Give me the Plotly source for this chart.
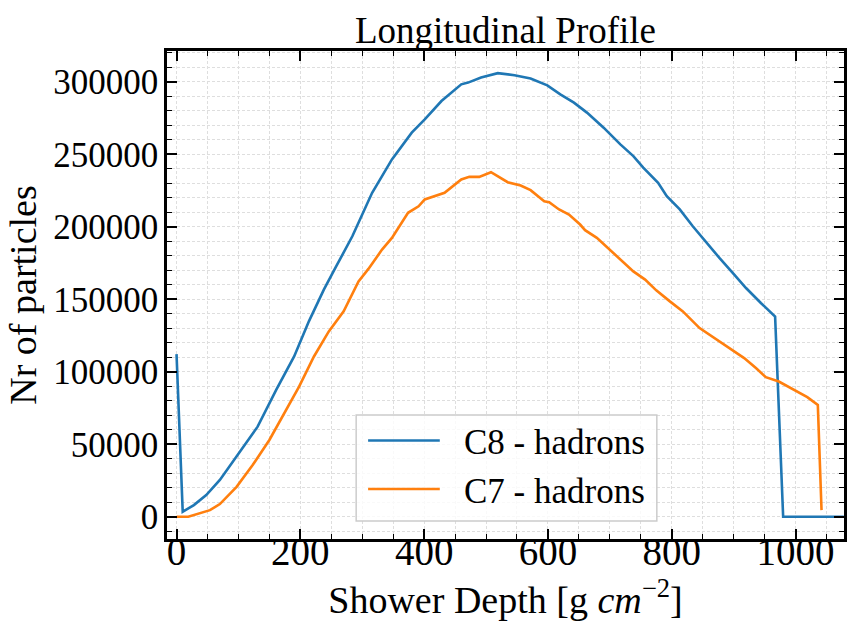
import plotly.graph_objects as go

# ---- data ----
c8_depth = [0, 10, 28, 48, 70, 102, 131, 161, 190, 214, 238, 257, 284, 316, 348, 380, 401, 428,
            460, 471, 492, 519, 546, 572, 599, 620, 642, 663, 690, 717, 738, 754, 778, 792, 813,
            834, 858, 877, 901, 920, 944, 967, 980, 1078]
c8_counts = [112200, 3500, 8100, 15000, 25400, 44900, 62200, 87600, 110600, 135000, 156700, 172000,
             193500, 223500, 246500, 265000, 274100, 286800, 298300, 299500, 303000, 306000, 304600,
             302300, 297600, 291400, 285700, 278800, 268400, 256900, 248800, 240800, 230400, 221100,
             212000, 200400, 187800, 178600, 167000, 157800, 147500, 138200, 0, 0]

c7_depth = [0, 19, 54, 70, 97, 123, 150, 174, 198, 222, 246, 270, 294, 310, 332, 348, 374, 391, 401,
            433, 447, 460, 473, 489, 508, 519, 535, 556, 572, 594, 602, 618, 634, 652, 660, 679, 701,
            722, 738, 757, 775, 797, 818, 845, 866, 888, 904, 917, 936, 952, 973, 995, 1019, 1036, 1042]
c7_counts = [0, 0, 4600, 8800, 20700, 35700, 53000, 71500, 89800, 110600, 127900, 141700, 162400,
             171000, 184300, 192400, 209700, 214200, 218900, 223500, 228000, 232700, 234500, 234500,
             237700, 235000, 230800, 228500, 225300, 217700, 217000, 212000, 208500, 201600, 197700,
             192400, 183800, 176200, 169300, 163600, 156200, 148600, 141700, 130200, 124000, 117500,
             112900, 109500, 102600, 96300, 93300, 88000, 82500, 77200, 4600]

series_names = ["C8 - hadrons", "C7 - hadrons"]
series_colors = ["#1f77b4", "#ff7f0e"]
x_ticks = [0, 200, 400, 600, 800, 1000]
y_ticks = [0, 50000, 100000, 150000, 200000, 250000, 300000]

FONT = "'Liberation Serif', 'Times New Roman', 'DejaVu Serif', serif"
GRID = "#dedede"

fig = go.Figure()
for xs, ys, name, col in [(c8_depth, c8_counts, series_names[0], series_colors[0]),
                          (c7_depth, c7_counts, series_names[1], series_colors[1])]:
    fig.add_trace(go.Scatter(x=xs, y=ys, mode="lines", name=name, cliponaxis=True,
                             line=dict(color=col, width=2.6), showlegend=False))

grid_common = dict(showgrid=True, gridcolor=GRID, gridwidth=0.8, griddash="3px,2px")

fig.update_xaxes(range=[-15.4, 1078.3], tickvals=x_ticks, ticktext=[str(v) for v in x_ticks],
                 ticks="inside", ticklen=10, tickwidth=1.5, tickcolor="black",
                 showline=True, linecolor="black", linewidth=2.6, mirror="allticks",
                 zeroline=False, tickfont=dict(family=FONT, size=39, color="black"),
                 ticklabelstandoff=-24,
                 title=dict(text="Shower Depth [g <i>cm</i><sup>−2</sup>]",
                            font=dict(family=FONT, size=38, color="black"), standoff=7),
                 minor=dict(dtick=50, ticks="inside", ticklen=5, tickwidth=1, tickcolor="black",
                            showgrid=True, gridcolor=GRID, gridwidth=0.8, griddash="3px,2px"),
                 **grid_common)
fig.update_yaxes(range=[-15300, 321300], tickvals=y_ticks, ticktext=[str(v) for v in y_ticks],
                 ticks="inside", ticklen=10, tickwidth=1.5, tickcolor="black",
                 showline=True, linecolor="black", linewidth=2.6, mirror="allticks",
                 zeroline=False, tickfont=dict(family=FONT, size=35, color="black"),
                 ticklabelstandoff=-1,
                 title=dict(text="Nr of particles", font=dict(family=FONT, size=38, color="black"),
                            standoff=5),
                 minor=dict(dtick=10000, tick0=0, ticks="inside", ticklen=5, tickwidth=1,
                            tickcolor="black", showgrid=True, gridcolor=GRID, gridwidth=0.8,
                            griddash="3px,2px"),
                 **grid_common)

# ---- legend drawn manually (matplotlib style) ----
def px2paper_x(px):
    return (px - 167) / 680.0

def px2paper_y(py):
    return (539 - py) / 488.0

shapes = [dict(type="rect", xref="paper", yref="paper",
               x0=px2paper_x(357), x1=px2paper_x(659), y0=px2paper_y(521), y1=px2paper_y(415),
               line=dict(color="#cccccc", width=1.5), fillcolor="rgba(255,255,255,0.8)", layer="above")]
annotations = []
for i, (name, col) in enumerate(zip(series_names, series_colors)):
    yc = 440.5 + 48.5 * i
    shapes.append(dict(type="line", xref="paper", yref="paper",
                       x0=px2paper_x(369), x1=px2paper_x(441), y0=px2paper_y(yc), y1=px2paper_y(yc),
                       line=dict(color=col, width=2.6), layer="above"))
    annotations.append(dict(xref="paper", yref="paper", x=px2paper_x(463), y=px2paper_y(yc + 2),
                            xanchor="left", yanchor="middle", text=name, showarrow=False,
                            font=dict(family=FONT, size=35, color="black")))

fig.update_layout(
    width=854, height=633,
    margin=dict(l=167, r=7, t=51, b=94),
    paper_bgcolor="white", plot_bgcolor="white",
    title=dict(text="Longitudinal Profile", x=0.5, xanchor="center", y=0.953, yanchor="middle",
               xref="paper", font=dict(family=FONT, size=37, color="black")),
    shapes=shapes, annotations=annotations,
    showlegend=False,
)

fig.write_html("out.html")
